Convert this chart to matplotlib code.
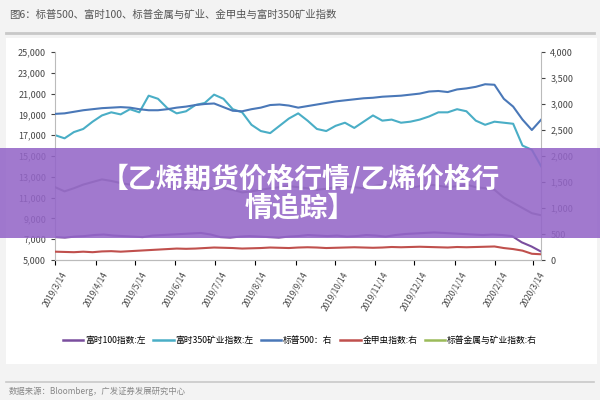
import matplotlib
matplotlib.use("Agg")
import matplotlib.pyplot as plt
import numpy as np
import pandas as pd
from matplotlib.patches import Rectangle
from matplotlib.lines import Line2D

plt.rcParams['font.family'] = ['Noto Sans CJK SC', 'DejaVu Sans']

ftse100 = [7200,7150,7250,7300,7400,7450,7350,7300,7250,7200,7350,7400,7450,7500,7550,7600,7450,7200,7150,7250,7300,7250,7200,7150,7250,7300,7400,7350,7300,7350,7250,7300,7400,7350,7250,7400,7500,7550,7600,7650,7600,7550,7500,7450,7400,7450,7400,7300,6700,6300,5800]
ftse350min = [17000,16700,17300,17600,18300,18900,19200,19000,19500,19200,20800,20500,19600,19100,19300,19900,20100,20900,20500,19500,19200,18000,17400,17200,17900,18600,19100,18400,17600,17400,17900,18200,17700,18300,18900,18400,18500,18200,18300,18500,18800,19200,19200,19500,19300,18400,18000,18300,18200,18100,16000,15600,14000]
sp500 = [2810,2820,2850,2880,2900,2920,2930,2940,2930,2900,2880,2880,2900,2930,2950,2980,3000,3010,2940,2870,2860,2900,2930,2980,2990,2970,2930,2960,2990,3020,3050,3070,3090,3110,3120,3140,3150,3160,3180,3200,3240,3250,3230,3280,3300,3330,3380,3370,3100,2950,2700,2500,2700]
goldbugs = [160,155,150,160,150,165,170,160,170,180,190,200,210,220,215,220,230,240,235,230,220,225,230,240,235,230,240,245,240,230,235,240,245,240,235,240,250,245,250,255,250,245,240,250,245,250,255,260,230,210,180,120,110]
spmetal = [1400,1320,1380,1450,1500,1550,1520,1480,1450,1400,1420,1450,1430,1400,1380,1350,1350,1400,1380,1350,1300,1320,1350,1380,1400,1420,1400,1380,1350,1370,1400,1420,1400,1380,1420,1450,1430,1400,1380,1420,1450,1430,1400,1420,1450,1400,1380,1350,1200,1100,1000,900,860]

left_ticks = list(range(5000, 25001, 2000))
right_ticks = list(range(0, 4001, 500))
date_labels = ['2019/3/14','2019/4/14','2019/5/14','2019/6/14','2019/7/14','2019/8/14','2019/9/14','2019/10/14','2019/11/14','2019/12/14','2020/1/14','2020/2/14','2020/3/14']
start, end = pd.Timestamp('2019-03-14'), pd.Timestamp('2020-03-20')

def xs(n):
    return pd.date_range(start, end, periods=n)

fig = plt.figure(figsize=(6, 4), dpi=100, facecolor='#f3f3f3')
fig.add_artist(Rectangle((0.01, 0.09), 0.985, 0.815, transform=fig.transFigure, facecolor='white', edgecolor='none', zorder=-10))
fig.add_artist(Line2D([0.01, 0.99], [0.918, 0.918], color='#c8c8c8', lw=2))
fig.add_artist(Line2D([0.01, 0.99], [0.045, 0.045], color='#c8c8c8', lw=1.2))
fig.text(0.015, 0.962, '图6：标普500、富时100、标普金属与矿业、金甲虫与富时350矿业指数', fontsize=7.5, color='#555555', va='center')
fig.text(0.015, 0.022, '数据来源：Bloomberg，广发证券发展研究中心', fontsize=6, color='#888888', va='center')

ax = fig.add_axes([0.092, 0.35, 0.81, 0.52])
ax2 = ax.twinx()
ax.patch.set_alpha(0); ax2.patch.set_alpha(0)
c1, c2, c3, c4, c5 = '#7a4e9e', '#4aaec6', '#4a78b8', '#c0504d', '#9bbb59'
ax.plot(xs(len(ftse100)), ftse100, color=c1, lw=1.5)
ax.plot(xs(len(ftse350min)), ftse350min, color=c2, lw=1.5)
ax2.plot(xs(len(sp500)), sp500, color=c3, lw=1.5)
ax2.plot(xs(len(goldbugs)), goldbugs, color=c4, lw=1.5)
ax2.plot(xs(len(spmetal)), spmetal, color='#8a8a8a', lw=1.5)
ax.set_ylim(5000, 25000); ax2.set_ylim(0, 4000)
ax.set_yticks(left_ticks); ax.set_yticklabels([f'{v:,}' for v in left_ticks])
ax2.set_yticks(right_ticks); ax2.set_yticklabels([f'{v:,}' for v in right_ticks])
ax.set_xlim(start, end)
ax.set_xticks(pd.to_datetime(date_labels, format='%Y/%m/%d'))
ax.set_xticklabels(date_labels, rotation=60, fontsize=6, color='#444444')
for a in (ax, ax2):
    a.tick_params(axis='y', labelsize=6.5, colors='#444444', length=3)
    for s in a.spines.values():
        s.set_visible(False)
    a.spines['bottom'].set_visible(True); a.spines['bottom'].set_color('#bbbbbb')
ax.spines['left'].set_visible(True); ax.spines['left'].set_color('#bbbbbb')
ax2.spines['right'].set_visible(True); ax2.spines['right'].set_color('#bbbbbb')

handles = [Line2D([], [], color=c, lw=1.8) for c in (c1, c2, c3, c4, c5)]
labels = ['富时100指数:左', '富时350矿业指数:左', '标普500：右', '金甲虫指数:右', '标普金属与矿业指数:右']
fig.legend(handles, labels, loc='center', bbox_to_anchor=(0.5, 0.148), ncol=5, frameon=False, fontsize=6.3, handlelength=2.3, columnspacing=0.9, handletextpad=0.2)

fig.add_artist(Rectangle((0, 0.405), 1, 0.225, transform=fig.transFigure, facecolor='#9466c8', alpha=0.88, edgecolor='none', zorder=5))
fig.text(0.5, 0.518, '【乙烯期货价格行情/乙烯价格行\n情追踪】', ha='center', va='center', color='white', fontsize=20, fontweight='bold', linespacing=1.05, zorder=6)

fig.savefig('out.png', dpi=100, facecolor=fig.get_facecolor())
